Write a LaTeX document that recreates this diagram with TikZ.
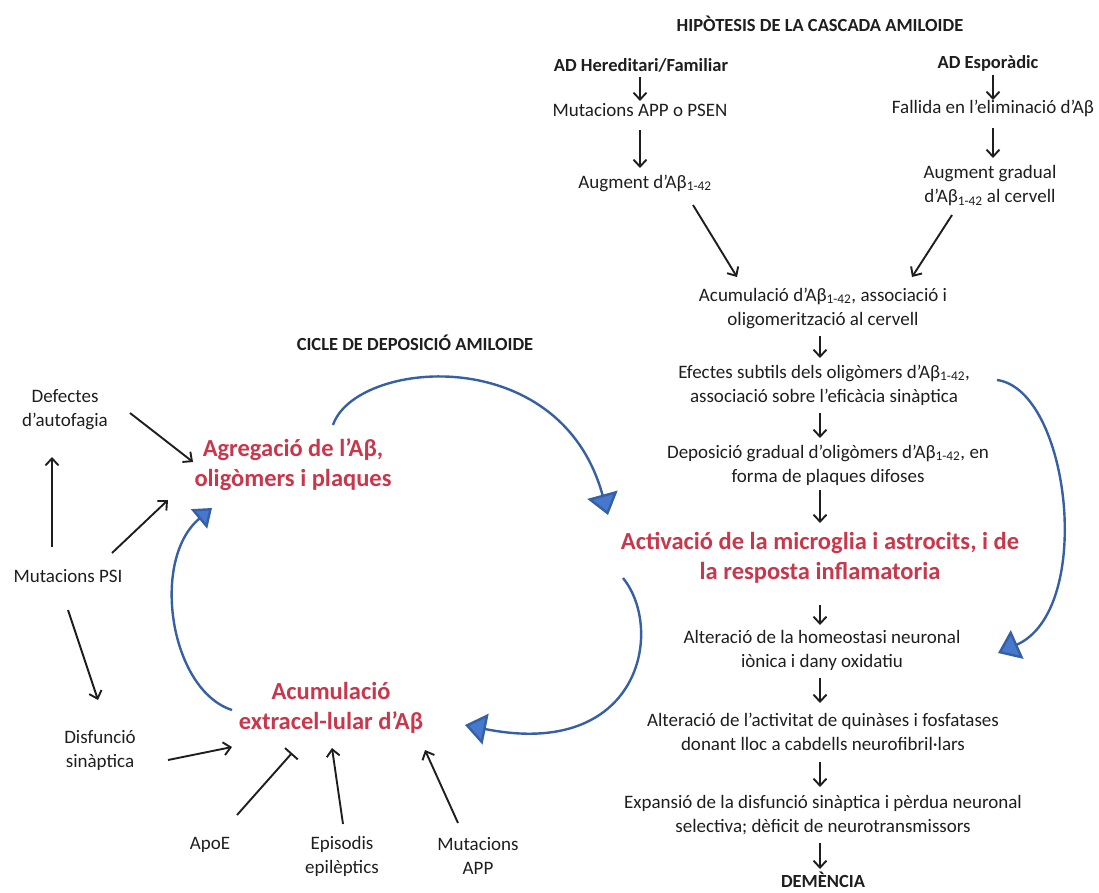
\documentclass[tikz,border=0pt]{standalone}
\usepackage{fontspec}
\setmainfont{Carlito}
\usetikzlibrary{arrows.meta}
\definecolor{tx}{RGB}{30,30,30}
\definecolor{rd}{RGB}{200,55,75}
\definecolor{bl}{RGB}{55,95,165}
\definecolor{bfill}{RGB}{70,120,205}
\begin{document}
\begin{tikzpicture}[x=1pt,y=-1pt,
 txt/.style={font=\fontsize{19}{24}\selectfont, align=center, inner sep=0pt, text=tx},
 hd/.style={font=\bfseries\fontsize{18.5}{24}\selectfont, align=center, inner sep=0pt, text=tx},
 rdt/.style={font=\bfseries\fontsize{24.5}{30}\selectfont, align=center, inner sep=0pt, text=rd},
 arr/.style={draw=tx, line width=1.9pt, -{Straight Barb[length=7pt,width=13pt]}},
 inh/.style={draw=tx, line width=1.9pt, -{Bar[width=17pt]}},
 barr/.style={draw=bl, line width=2.4pt, -{Triangle[length=21pt,width=31pt,fill=bfill]}},
 barrs/.style={draw=bl, line width=2.4pt, -{Triangle[length=17pt,width=25pt,fill=bfill]}},
]
\useasboundingbox (0,0) rectangle (1099,893);
% right column
\node[hd] (title) at (820,24) {HIPÒTESIS DE LA CASCADA AMILOIDE};
\node[hd] (hered) at (641,65) {AD Hereditari/Familiar};
\node[txt] (mutpsen) at (640,110) {Mutacions APP o PSEN};
\node[txt] (augA) at (645,183) {Augment d’Aβ\textsubscript{1-42}};
\node[hd] (espor) at (988,63) {AD Esporàdic};
\node[txt] (fallida) at (993,108) {Fallida en l’eliminació d’Aβ};
\node[txt] (auggrad) at (990,186) {Augment gradual\\d’Aβ\textsubscript{1-42} al cervell};
\node[txt] (acum) at (823,308) {Acumulació d’Aβ\textsubscript{1-42}, associació i\\oligomerització al cervell};
\node[txt] (efect) at (824,385) {Efectes subtils dels oligòmers d’Aβ\textsubscript{1-42},\\associació sobre l’eficàcia sinàptica};
\node[txt] (depos) at (828,465) {Deposició gradual d’oligòmers d’Aβ\textsubscript{1-42}, en\\forma de plaques difoses};
\node[rdt] (activ) at (820,558) {Activació de la microglia i astrocits, i de\\la resposta inflamatoria};
\node[txt] (homeo) at (822,650) {Alteració de la homeostasi neuronal\\iònica i dany oxidatiu};
\node[txt] (quin) at (823,732) {Alteració de l’activitat de quinàses i fosfatases\\donant lloc a cabdells neurofibril·lars};
\node[txt] (expan) at (823,815) {Expansió de la disfunció sinàptica i pèrdua neuronal\\selectiva; dèficit de neurotransmissors};
\node[hd] (demen) at (823,880) {DEMÈNCIA};
% left cycle
\node[hd] (cicle) at (415,343) {CICLE DE DEPOSICIÓ AMILOIDE};
\node[txt] (defect) at (65,410) {Defectes\\d’autofagia};
\node[txt] (psi) at (68,576) {Mutacions PSI};
\node[txt] (disf) at (100,750) {Disfunció\\sinàptica};
\node[rdt] (agreg) at (293,465) {Agregació de l’Aβ,\\oligòmers i plaques};
\node[rdt] (acumx) at (331,708) {Acumulació\\extracel-lular d’Aβ};
\node[txt] (apoe) at (210,845) {ApoE};
\node[txt] (epis) at (342,856) {Episodis\\epilèptics};
\node[txt] (mutapp) at (478,856) {Mutacions\\APP};
% black arrows right
\draw[arr] ([shift={(-1,12)}]hered.center) -- ([shift={(0,-9)}]mutpsen.center);
\draw[arr] ([shift={(0,20)}]mutpsen.center) -- ([shift={(-5,-15)}]augA.center);
\draw[arr] ([shift={(48,22)}]augA.center) -- ([shift={(-86,-31)}]acum.center);
\draw[arr] ([shift={(5,12)}]espor.center) -- ([shift={(0,-8)}]fallida.center);
\draw[arr] ([shift={(0,20)}]fallida.center) -- ([shift={(3,-28)}]auggrad.center);
\draw[arr] ([shift={(-38,29)}]auggrad.center) -- ([shift={(89,-31)}]acum.center);
\draw[arr] ([shift={(-3,28)}]acum.center) -- ([shift={(-4,-27)}]efect.center);
\draw[arr] ([shift={(-4,28)}]efect.center) -- ([shift={(-8,-27)}]depos.center);
\draw[arr] ([shift={(-8,25)}]depos.center) -- ([shift={(0,-35)}]activ.center);
\draw[arr] ([shift={(0,47)}]activ.center) -- ([shift={(-2,-25)}]homeo.center);
\draw[arr] ([shift={(-2,28)}]homeo.center) -- ([shift={(-3,-29)}]quin.center);
\draw[arr] ([shift={(-3,30)}]quin.center) -- ([shift={(-3,-28)}]expan.center);
\draw[arr] ([shift={(-3,28)}]expan.center) -- ([shift={(-3,-11)}]demen.center);
% black arrows left
\draw[arr] ([shift={(-16,-29)}]psi.center) -- ([shift={(-13,47)}]defect.center);
\draw[arr] ([shift={(65,3)}]defect.center) -- ([shift={(-100,-3)}]agreg.center);
\draw[arr] ([shift={(44,-23)}]psi.center) -- ([shift={(-125,35)}]agreg.center);
\draw[arr] ([shift={(0,34)}]psi.center) -- ([shift={(-2,-50)}]disf.center);
\draw[arr] ([shift={(68,10)}]disf.center) -- ([shift={(-99,39)}]acumx.center);
\draw[inh] ([shift={(27,-30)}]apoe.center) -- ([shift={(-39,45)}]acumx.center);
\draw[arr] ([shift={(1,-32)}]epis.center) -- ([shift={(1,40)}]acumx.center);
\draw[arr] ([shift={(-20,-33)}]mutapp.center) -- ([shift={(94,42)}]acumx.center);
% blue arrows
\draw[barr] ([shift={(40,-40)}]agreg.center) .. controls +(22,-65) and +(-48,-175) .. ([shift={(-212,-43)}]activ.center);
\draw[barr] ([shift={(-197,20)}]activ.center) .. controls +(42,52) and +(175,35) .. ([shift={(134,17)}]acumx.center);
\draw[barrs] ([shift={(-99,2)}]acumx.center) .. controls +(-62,-20) and +(-62,52) .. ([shift={(-81,43)}]agreg.center);
\draw[barr] ([shift={(173,-5)}]efect.center) .. controls +(73,10) and +(97,-43) .. ([shift={(176,3)}]homeo.center);
\end{tikzpicture}
\end{document}
